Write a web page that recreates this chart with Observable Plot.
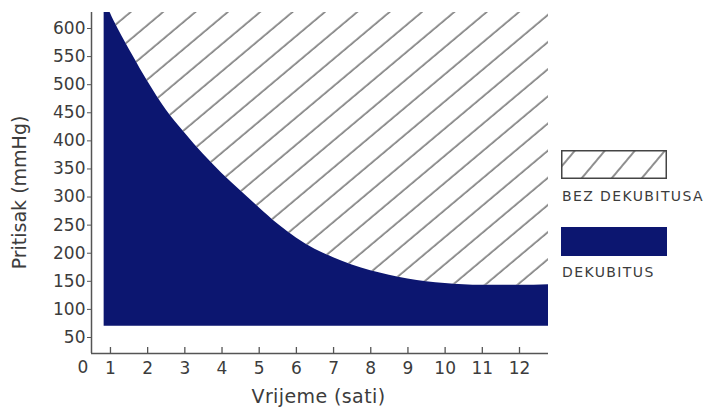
<!DOCTYPE html>
<html>
<head>
<meta charset="utf-8">
<script src="https://cdn.jsdelivr.net/npm/d3@7"></script>
<script src="https://cdn.jsdelivr.net/npm/@observablehq/plot@0.6"></script>
<style>
  html, body { margin: 0; padding: 0; background: #fff; }
  #wrap { position: relative; width: 705px; height: 411px; overflow: hidden; }
  .leg { position: absolute; font-family: "DejaVu Sans", sans-serif; font-size: 14px; color: #3c3c3c; letter-spacing: 1.4px; white-space: nowrap; }
</style>
</head>
<body>
<div id="wrap"></div>
<script>
// ---- data ----
const hours    = [0.83, 1.0, 1.2, 1.6, 2.0, 2.5, 3.0, 3.5, 4.0, 4.5, 5.0, 5.5, 6.0, 6.5, 7.0, 7.5, 8.0, 8.5, 9.0, 9.5, 10.0, 10.5, 11.0, 12.0, 12.78];
const pressure = [660, 627, 600, 552, 506, 455, 414, 376, 342, 311, 281, 252, 227, 207, 192, 179, 169, 161, 154, 149, 146, 144, 143, 143, 144];
const baseline = 70;                 // bottom of the DEKUBITUS band (mmHg)
const xDomain = [0.49, 12.78];
const yDomain = [21.5, 628.5];
const xTicks = [1, 2, 3, 4, 5, 6, 7, 8, 9, 10, 11, 12];
const yTicks = [50, 100, 150, 200, 250, 300, 350, 400, 450, 500, 550, 600];
const cornerLabel = ["0"];
const xTitle = ["Vrijeme (sati)"];
const yTitle = ["Pritisak (mmHg)"];
const legendLabels = ["BEZ DEKUBITUSA", "DEKUBITUS"];

const navy = "#0c1670";
const ink = "#3c3c3c";
const rows = hours.map((h, i) => ({h, p: pressure[i]}));

const W = 705, H = 411, mL = 91, mR = 157, mT = 12, mB = 58;
const frameH = H - mT - mB;

const chart = Plot.plot({
  width: W, height: H,
  marginLeft: mL, marginRight: mR, marginTop: mT, marginBottom: mB,
  style: {fontFamily: "DejaVu Sans, sans-serif", fontSize: "17px", color: ink, background: "#fff"},
  x: {domain: xDomain},
  y: {domain: yDomain},
  marks: [
    Plot.areaY(rows, {x: "h", y1: "p", y2: yDomain[1], fill: "url(#hatch)", curve: "monotone-x", clip: true}),
    Plot.areaY(rows, {x: "h", y1: baseline, y2: "p", fill: navy, curve: "monotone-x", clip: true}),
    Plot.ruleX([xDomain[0]], {stroke: "#555", strokeWidth: 1.5}),
    Plot.ruleY([yDomain[0]], {stroke: "#555", strokeWidth: 1.5}),
    Plot.tickX(xTicks, {x: d => d, insetTop: frameH - 6, stroke: "#555", strokeWidth: 1.3}),
    Plot.axisX({ticks: xTicks, tickSize: 0, tickPadding: 8, label: null, fill: ink, fontSize: 17}),
    Plot.axisY({ticks: yTicks, tickSize: 4, tickPadding: 2, label: null, fill: ink, stroke: "#555", fontSize: 17}),
    Plot.text(cornerLabel, {frameAnchor: "bottom-left", text: d => d, dx: -14, dy: 14, fill: ink, fontSize: 17, lineAnchor: "middle"}),
    Plot.text(xTitle, {frameAnchor: "bottom", text: d => d, dx: -1.5, dy: 43.5, fill: ink, fontSize: 19, lineAnchor: "middle", textAnchor: "middle"}),
    Plot.text(yTitle, {frameAnchor: "left", text: d => d, dx: -72, dy: 9.5, rotate: -90, fill: ink, fontSize: 19, lineAnchor: "middle", textAnchor: "middle"})
  ]
});

// hatch pattern definition
const defs = d3.select(chart).insert("defs", ":first-child");
const pat = defs.append("pattern")
  .attr("id", "hatch").attr("patternUnits", "userSpaceOnUse")
  .attr("width", 20).attr("height", 20.8)
  .attr("patternTransform", "rotate(-40)");
pat.append("rect").attr("width", 20).attr("height", 20.8).attr("fill", "#fff");
pat.append("line").attr("x1", 0).attr("x2", 20).attr("y1", 10).attr("y2", 10)
  .attr("stroke", "#4a4a4a").attr("stroke-width", 1.2);

// x title letter spacing
d3.select(chart).selectAll("text").filter(function(){ return this.textContent === xTitle[0]; })
  .attr("letter-spacing", "0.4px");

const wrap = document.getElementById("wrap");
wrap.appendChild(chart);

// legend
const hatchBox = document.createElement("div");
hatchBox.style.cssText = "position:absolute;left:561px;top:150px;width:106px;height:29px;";
hatchBox.innerHTML = `<svg width="106" height="29" style="display:block">
  <defs><pattern id="hatchLeg" patternUnits="userSpaceOnUse" width="20" height="23" patternTransform="rotate(-50)">
    <rect width="20" height="23" fill="#fff"/><line x1="0" x2="20" y1="11" y2="11" stroke="#444" stroke-width="1.2"/>
  </pattern></defs>
  <rect x="0.75" y="0.75" width="104.5" height="27.5" fill="url(#hatchLeg)" stroke="#444" stroke-width="1.5"/>
</svg>`;
wrap.appendChild(hatchBox);

const t1 = document.createElement("div");
t1.className = "leg"; t1.style.left = "562px"; t1.style.top = "188px"; t1.textContent = legendLabels[0];
wrap.appendChild(t1);

const navyBox = document.createElement("div");
navyBox.style.cssText = `position:absolute;left:561px;top:227px;width:106px;height:29px;background:${navy};`;
wrap.appendChild(navyBox);

const t2 = document.createElement("div");
t2.className = "leg"; t2.style.left = "562px"; t2.style.top = "264px"; t2.textContent = legendLabels[1];
wrap.appendChild(t2);
</script>
</body>
</html>
